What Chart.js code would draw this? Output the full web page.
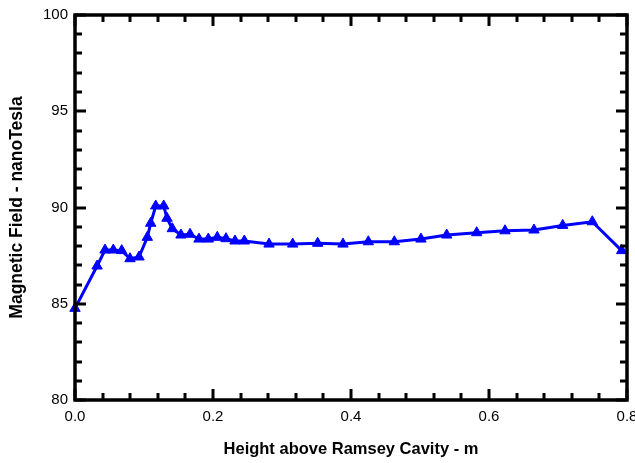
<!DOCTYPE html>
<html><head><meta charset="utf-8">
<script src="https://cdn.jsdelivr.net/npm/chart.js@4.4.1/dist/chart.umd.min.js"></script>
<style>html,body{margin:0;padding:0;background:#fff}#wrap{width:635px;height:463px}</style>
</head><body><div id="wrap"><canvas id="c" width="635" height="463"></canvas></div>
<script>
const heights = [0.000,0.032,0.0435,0.0555,0.0677,0.0797,0.0928,0.1048,0.1097,0.117,0.1286,0.1333,0.141,0.1536,0.1667,0.1797,0.1932,0.2062,0.2188,0.2319,0.2454,0.2812,0.3155,0.3517,0.3884,0.4251,0.4628,0.5014,0.5387,0.5822,0.6232,0.6652,0.7068,0.7497,0.7923];
const field = [84.76,86.96,87.79,87.79,87.76,87.34,87.43,88.45,89.18,90.08,90.08,89.44,88.90,88.57,88.61,88.36,88.36,88.45,88.38,88.26,88.26,88.10,88.10,88.14,88.10,88.22,88.22,88.36,88.57,88.69,88.79,88.83,89.07,89.26,87.76];
const xMajorTicks = [0.0,0.2,0.4,0.6,0.8];
const xMinorStep = 0.04;
const yMajorTicks = [80,85,90,95,100];
const yMinorStep = 1;

const boxTicks = {
  id:'boxTicks',
  afterDraw(chart){
    const {ctx, chartArea:a, scales:{x,y}} = chart;
    ctx.save();
    ctx.strokeStyle='#000';
    ctx.lineWidth=3;
    ctx.lineCap='butt';
    const maj=11, mn=7;
    for(let v=0; v<=0.8+1e-9; v+=xMinorStep){
      const isMaj = xMajorTicks.some(t=>Math.abs(t-v)<1e-6);
      const L = isMaj?maj:mn;
      const px = Math.round(x.getPixelForValue(v));
      ctx.beginPath();
      ctx.moveTo(px,a.bottom); ctx.lineTo(px,a.bottom-L);
      ctx.moveTo(px,a.top); ctx.lineTo(px,a.top+L);
      ctx.stroke();
    }
    for(let v=80; v<=100+1e-9; v+=yMinorStep){
      const isMaj = yMajorTicks.includes(Math.round(v));
      const L = isMaj?maj:mn;
      const py = Math.round(y.getPixelForValue(v));
      ctx.beginPath();
      ctx.moveTo(a.left,py); ctx.lineTo(a.left+L,py);
      ctx.moveTo(a.right,py); ctx.lineTo(a.right-L,py);
      ctx.stroke();
    }
    ctx.lineWidth=3.5;
    ctx.strokeRect(a.left,a.top,a.right-a.left,a.bottom-a.top);
    ctx.restore();
  }
};

new Chart(document.getElementById('c'),{
  type:'line',
  data:{datasets:[{
    data: heights.map((h,i)=>({x:h,y:field[i]})),
    borderColor:'#0000ff',
    backgroundColor:'#0000ff',
    borderWidth:3,
    pointStyle:'triangle',
    pointRadius:6,
    pointBorderWidth:1,
    pointHoverRadius:6,
    tension:0,
    clip:false
  }]},
  options:{
    responsive:false,
    animation:false,
    events:[],
    layout:{padding:{top:15,right:8,left:0,bottom:0}},
    plugins:{legend:{display:false},tooltip:{enabled:false}},
    scales:{
      x:{
        type:'linear', min:0, max:0.8,
        afterBuildTicks(s){ s.ticks = xMajorTicks.map(v=>({value:v})); },
        afterFit(s){ s.height = 63; s.paddingLeft = 0; s.paddingRight = 0; },
        grid:{display:false, drawTicks:false},
        border:{display:false},
        ticks:{padding:8, color:'#000', font:{family:'Liberation Sans, Arial', size:15}, maxRotation:0,
          callback:v=>Number(v).toFixed(1)},
        title:{display:true, text:'Height above Ramsey Cavity - m', color:'#000',
          font:{family:'Liberation Sans, Arial', size:16.5, weight:'bold'}, padding:{top:0,bottom:4}}
      },
      y:{
        type:'linear', min:80, max:100,
        afterBuildTicks(s){ s.ticks = yMajorTicks.map(v=>({value:v})); },
        afterFit(s){ s.width = 75; s.paddingTop = 0; s.paddingBottom = 0; },
        grid:{display:false, drawTicks:false},
        border:{display:false},
        ticks:{padding:7, color:'#000', font:{family:'Liberation Sans, Arial', size:15},
          callback:v=>String(v)},
        title:{display:true, text:'Magnetic Field - nanoTesla', color:'#000',
          font:{family:'Liberation Sans, Arial', size:17.5, weight:'bold'}, padding:{top:7,bottom:0}}
      }
    }
  },
  plugins:[boxTicks]
});
</script></body></html>
